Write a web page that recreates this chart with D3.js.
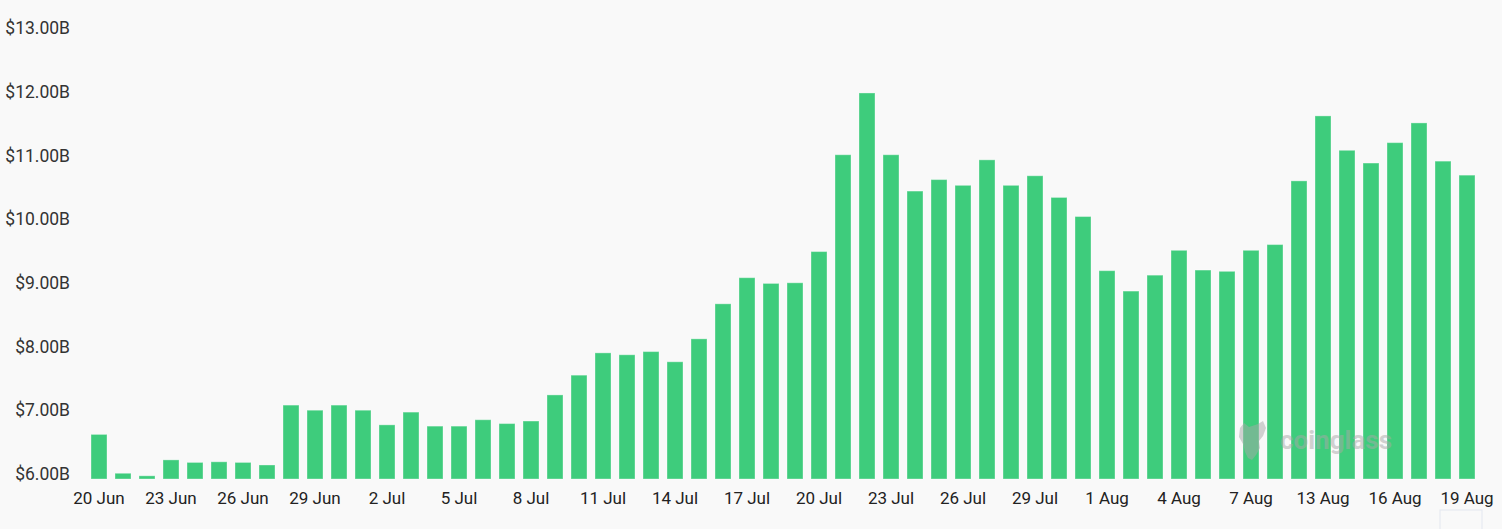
<!DOCTYPE html>
<html>
<head>
<meta charset="utf-8">
<script src="https://cdn.jsdelivr.net/npm/d3@7/dist/d3.min.js"></script>
<style>
  html, body { margin: 0; padding: 0; background: #f9f9f9; }
  svg { display: block; }
</style>
</head>
<body>
<svg id="chart" width="1502" height="529"></svg>
<script>
const categories = [
  "20 Jun","21 Jun","22 Jun","23 Jun","24 Jun","25 Jun","26 Jun","27 Jun","28 Jun","29 Jun",
  "30 Jun","1 Jul","2 Jul","3 Jul","4 Jul","5 Jul","6 Jul","7 Jul","8 Jul","9 Jul",
  "10 Jul","11 Jul","12 Jul","13 Jul","14 Jul","15 Jul","16 Jul","17 Jul","18 Jul","19 Jul",
  "20 Jul","21 Jul","22 Jul","23 Jul","24 Jul","25 Jul","26 Jul","27 Jul","28 Jul","29 Jul",
  "30 Jul","31 Jul","1 Aug","2 Aug","3 Aug","4 Aug","5 Aug","6 Aug","7 Aug","8 Aug",
  "9 Aug","13 Aug","14 Aug","15 Aug","16 Aug","17 Aug","18 Aug","19 Aug"
];
// values in billions USD
const values = [
  6.62, 6.01, 5.97, 6.22, 6.18, 6.19, 6.18, 6.14, 7.08, 7.00,
  7.08, 7.00, 6.77, 6.97, 6.75, 6.75, 6.85, 6.79, 6.83, 7.24,
  7.55, 7.90, 7.87, 7.92, 7.76, 8.12, 8.67, 9.08, 8.99, 9.00,
  9.49, 11.01, 11.98, 11.01, 10.44, 10.62, 10.53, 10.93, 10.53, 10.68,
  10.34, 10.04, 9.19, 8.87, 9.12, 9.51, 9.20, 9.18, 9.51, 9.60,
  10.60, 11.62, 11.08, 10.88, 11.20, 11.51, 10.91, 10.69
];
const yTicks = [6, 7, 8, 9, 10, 11, 12, 13];
const yDomain = [5.92, 13];

const svg = d3.select("#chart");

const x = d3.scaleBand()
  .domain(categories)
  .range([87, 1479])
  .paddingInner(1/3)
  .paddingOuter(1/6);

const y = d3.scaleLinear()
  .domain(yDomain)
  .range([479, 28]);

// bars
svg.append("g")
  .selectAll("rect")
  .data(values)
  .join("rect")
  .attr("x", (d, i) => x(categories[i]))
  .attr("y", d => y(d))
  .attr("width", x.bandwidth())
  .attr("height", d => y(yDomain[0]) - y(d))
  .attr("fill", "#3ecc7c")
  .attr("stroke", "rgba(255,255,255,0.35)")
  .attr("stroke-width", 1);

// y axis
const yAxis = d3.axisLeft(y)
  .tickValues(yTicks)
  .tickSize(0)
  .tickPadding(0)
  .tickFormat(d => "$" + d3.format(".2f")(d) + "B");

const gy = svg.append("g")
  .attr("transform", "translate(70,0)")
  .call(yAxis);
gy.select(".domain").remove();
gy.selectAll("text")
  .attr("fill", "#333")
  .style("font-family", "Roboto, 'Noto Sans', sans-serif")
  .style("font-size", "17.5px");

// x axis
const xAxis = d3.axisBottom(x)
  .tickValues(categories.filter((d, i) => i % 3 === 0))
  .tickSize(0)
  .tickPadding(13);

const gx = svg.append("g")
  .attr("transform", "translate(0,479)")
  .call(xAxis);
gx.select(".domain").remove();
gx.selectAll("text")
  .attr("fill", "#222")
  .style("font-family", "Roboto, 'Noto Sans', sans-serif")
  .style("font-size", "17px");

// watermark
const wm = svg.append("g").attr("opacity", 0.5).attr("fill", "#a8a8a8");
wm.append("path")
  .attr("d", "M1240,428 L1244,423 L1249,427 L1258,424 L1263,421 L1266,428 L1263,436 L1259,441 L1260,448 L1256,455 L1252,460 L1248,458 L1245,452 L1243,444 L1239,437 Z");
wm.append("text")
  .attr("x", 1280)
  .attr("y", 449)
  .attr("font-family", "Roboto, 'Noto Sans', sans-serif")
  .attr("font-weight", "bold")
  .attr("font-size", "26px")
  .text("coinglass");

// faint slider edge bottom right
svg.append("rect")
  .attr("x", 1440).attr("y", 510).attr("width", 42).attr("height", 40)
  .attr("fill", "none").attr("stroke", "#e3e7f0").attr("stroke-width", 1);
</script>
</body>
</html>
